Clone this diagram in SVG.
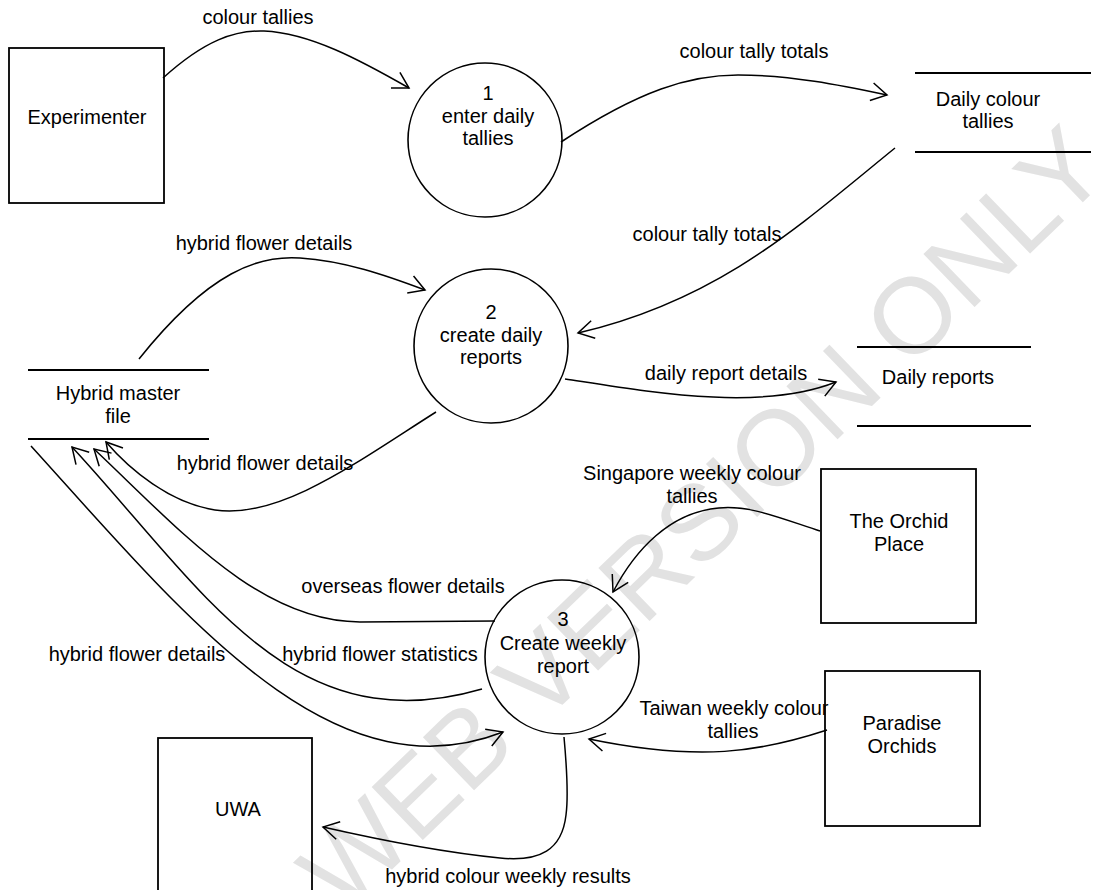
<svg xmlns="http://www.w3.org/2000/svg" width="1114" height="890" viewBox="0 0 1114 890">
<defs>
<style>
.t{font-family:"Liberation Sans",Arial,sans-serif;font-size:20px;fill:#000;text-anchor:middle}
.box{fill:none;stroke:#000;stroke-width:1.8}
.proc{fill:none;stroke:#000;stroke-width:1.6}
.store{stroke:#000;stroke-width:1.8}
.flow{fill:none;stroke:#000;stroke-width:1.5;marker-end:url(#ah)}
.wm{font-family:"Liberation Sans",Arial,sans-serif;font-size:107px;fill:#e2e2e2;text-anchor:middle}
</style>
<marker id="ah" markerUnits="userSpaceOnUse" markerWidth="30" markerHeight="30" viewBox="-20 -15 30 30" refX="0" refY="0" orient="auto" overflow="visible">
<path d="M-15.6,-9 L0,0 L-15.6,9" fill="none" stroke="#000" stroke-width="1.5"/>
</marker>
</defs>
<rect width="1114" height="890" fill="#fff"/>
<text class="wm" x="728" y="545" transform="rotate(-44 728 545)">WEB VERSION ONLY</text>

<g id="experimenter"><rect class="box" x="9" y="48" width="155" height="155"/><text class="t" x="87" y="124">Experimenter</text></g>
<g id="p1"><circle class="proc" cx="485" cy="140" r="77"/><text class="t" x="488" y="100">1</text><text class="t" x="488" y="123">enter daily</text><text class="t" x="488" y="145">tallies</text></g>
<g id="daily-colour-tallies"><line class="store" x1="915" y1="73" x2="1091" y2="73"/><line class="store" x1="915" y1="152" x2="1091" y2="152"/><text class="t" x="988" y="106">Daily colour</text><text class="t" x="988" y="128">tallies</text></g>
<g id="p2"><circle class="proc" cx="491" cy="346" r="77"/><text class="t" x="491" y="319">2</text><text class="t" x="491" y="342">create daily</text><text class="t" x="491" y="364">reports</text></g>
<g id="hybrid-master"><line class="store" x1="28" y1="370" x2="209" y2="370"/><line class="store" x1="28" y1="439" x2="209" y2="439"/><text class="t" x="118" y="400">Hybrid master</text><text class="t" x="118" y="423">file</text></g>
<g id="daily-reports"><line class="store" x1="857" y1="347" x2="1031" y2="347"/><line class="store" x1="857" y1="426" x2="1031" y2="426"/><text class="t" x="938" y="384">Daily reports</text></g>
<g id="orchid-place"><rect class="box" x="821" y="469" width="155" height="154"/><text class="t" x="899" y="528">The Orchid</text><text class="t" x="899" y="551">Place</text></g>
<g id="p3"><circle class="proc" cx="562" cy="657" r="77"/><text class="t" x="563" y="626">3</text><text class="t" x="563" y="650">Create weekly</text><text class="t" x="563" y="673">report</text></g>
<g id="paradise"><rect class="box" x="825" y="671" width="155" height="155"/><text class="t" x="902" y="730">Paradise</text><text class="t" x="902" y="753">Orchids</text></g>
<g id="uwa"><rect class="box" x="158" y="738" width="154" height="160"/><text class="t" x="238" y="816">UWA</text></g>

<g id="connectors">
<path class="flow" d="M163,78 C205,40 235,30 264,31 C310,33 360,60 409,88"/>
<path class="flow" d="M561,142 C640,90 690,75 738,75 C790,75 840,85 887,95"/>
<path class="flow" d="M895,148 C800,225 720,300 578,333"/>
<path class="flow" d="M139,359 C210,270 260,255 300,258 C345,261 385,275 425,290"/>
<path class="flow" d="M565,379 C650,392 760,412 836,382"/>
<path class="flow" d="M436,412 C360,460 280,520 215,510 C170,503 130,470 106,442"/>
<path class="flow" d="M820,531 C780,518 750,505 719,508 C670,512 635,550 613,592"/>
<path class="flow" d="M495,621 L360,622 C260,622 180,530 94,449"/>
<path class="flow" d="M482,689 C290,745 200,585 72,447"/>
<path class="flow" d="M31,446 C180,610 330,800 503,732"/>
<path class="flow" d="M827,730 C760,752 700,762 589,739"/>
<path class="flow" d="M564,737 C567,770 568,800 566,815 C562,850 540,862 500,858 C440,852 380,840 323,827"/>
</g>

<g id="labels">
<text class="t" x="258" y="24">colour tallies</text>
<text class="t" x="754" y="58">colour tally totals</text>
<text class="t" x="707" y="241">colour tally totals</text>
<text class="t" x="264" y="250">hybrid flower details</text>
<text class="t" x="726" y="380">daily report details</text>
<text class="t" x="265" y="470">hybrid flower details</text>
<text class="t" x="692" y="480">Singapore weekly colour</text>
<text class="t" x="692" y="503">tallies</text>
<text class="t" x="403" y="593">overseas flower details</text>
<text class="t" x="137" y="661">hybrid flower details</text>
<text class="t" x="380" y="661">hybrid flower statistics</text>
<text class="t" x="734" y="715">Taiwan weekly colour</text>
<text class="t" x="733" y="738">tallies</text>
<text class="t" x="508" y="883">hybrid colour weekly results</text>
</g>
</svg>
